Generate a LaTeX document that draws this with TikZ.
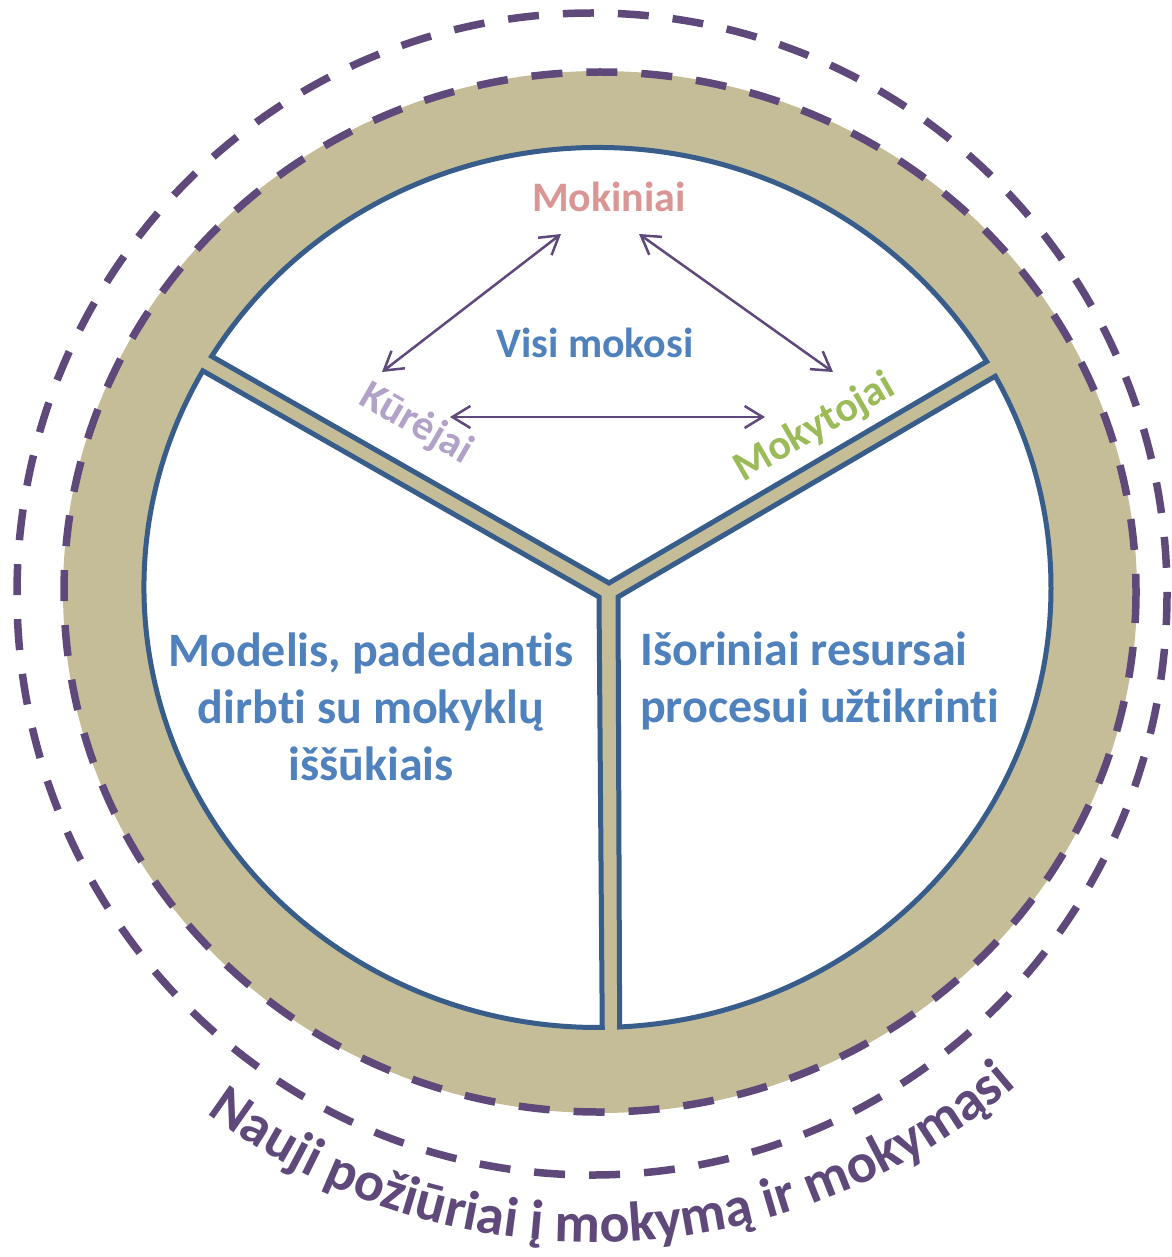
\documentclass[tikz,border=0pt]{standalone}
\usepackage{fontspec}
\setmainfont{Carlito}[Ligatures=NoCommon]
\usetikzlibrary{arrows.meta,calc,decorations.text}
\definecolor{tanfill}{RGB}{196,189,151}
\definecolor{rimblue}{RGB}{56,93,138}
\definecolor{dashpurple}{RGB}{95,73,122}
\definecolor{txtblue}{RGB}{79,129,189}
\definecolor{pinktxt}{RGB}{217,150,148}
\definecolor{lavtxt}{RGB}{179,162,199}
\definecolor{greentxt}{RGB}{155,187,89}
\newcommand{\mklabelfont}{\fontsize{42}{50}\selectfont\bfseries}
\newcommand{\mkblockfont}{\fontsize{48}{57}\selectfont\bfseries}
\newcommand{\mkringfont}{\fontsize{56}{64}\selectfont\bfseries}
\begin{document}
\begin{tikzpicture}[x=1pt,y=-1pt,
  region/.style={fill=white, draw=rimblue, line width=5pt, line join=miter},
  ringdash/.style={draw=dashpurple, line width=7.5pt, dash pattern=on 31pt off 24pt},
  link/.style={draw=dashpurple, line width=2.5pt, {Straight Barb[length=18pt,width=22pt]}-{Straight Barb[length=18pt,width=22pt]}},
  lbl/.style={font=\mklabelfont, anchor=base, inner sep=0pt},
  block/.style={font=\mkblockfont, text=txtblue, inner sep=0pt}
]
\useasboundingbox (0,0) rectangle (1171,1257);
\coordinate (R) at (600,592);
\coordinate (O) at (592,594);
\coordinate (W) at (597.5,587.5);
\coordinate (T) at (594,594);
% tan ring and dashed circles
\fill[tanfill] (R) ellipse [x radius=537, y radius=521];
\draw[ringdash] (R) ellipse [x radius=536, y radius=520];
\draw[ringdash] (O) ellipse [x radius=575, y radius=581];
% three white regions
\coordinate (topv) at (609,583);
\coordinate (leftv) at (599,597);
\coordinate (rightv) at (618,597);
\draw[region] (topv) -- ($(W)+(211.7:453.5 and 440)$) arc[start angle=211.7, end angle=329.1, x radius=453.5, y radius=440] -- cycle;
\draw[region] (leftv) -- ($(W)+(209.5:453.5 and 440)$) arc[start angle=209.5, end angle=89.4, x radius=453.5, y radius=440] -- cycle;
\draw[region] (rightv) -- ($(W)+(87.2:453.5 and 440)$) arc[start angle=87.2, end angle=-28.7, x radius=453.5, y radius=440] -- cycle;
% labels
\node[lbl, text=pinktxt] (mok) at (609,212) {Mokiniai};
\node[lbl, text=txtblue] (visi) at (595,357) {Visi mokosi};
\node[font=\mklabelfont, text=lavtxt, rotate=-30, inner sep=0pt] (kur) at (416,424) {Kūrėjai};
\node[font=\mklabelfont, text=greentxt, rotate=30, inner sep=0pt] (mkt) at (815,428) {Mokytojai};
% arrows
\coordinate (a1s) at (561,234); \coordinate (a1e) at (382,372);
\coordinate (a2s) at (639,234); \coordinate (a2e) at (833,372);
\coordinate (a3s) at (450,417); \coordinate (a3e) at (765,417);
\draw[link] (a1s) -- (a1e);
\draw[link] (a2s) -- (a2e);
\draw[link] (a3s) -- (a3e);
% blocks
\node[block, align=center, anchor=base] (modl) at (371,780) {Modelis, padedantis\\dirbti su mokyklų\\iššūkiais};
\node[block, align=left, anchor=base west] (ext) at (640,722) {Išoriniai resursai\\procesui užtikrinti};
% curved text
\path[decorate, decoration={text along path, text align=center, text={|\mkringfont\color{dashpurple}|Nauji požiūriai į mokymą ir mokymąsi}}] ($(T)+(144:648)$) arc[start angle=144, end angle=32, radius=648];
\end{tikzpicture}
\end{document}
